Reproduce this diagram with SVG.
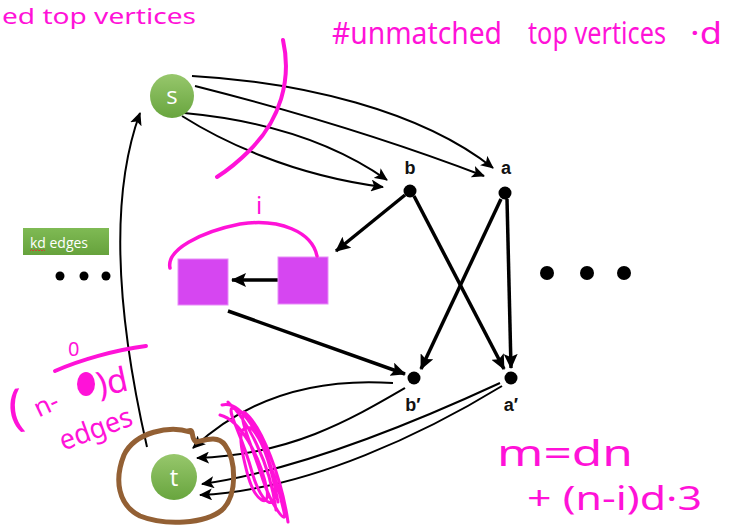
<svg xmlns="http://www.w3.org/2000/svg" width="732" height="527" viewBox="0 0 732 527">
<defs>
<linearGradient id="gn" x1="0" y1="0" x2="0" y2="1">
<stop offset="0" stop-color="#97c76c"/>
<stop offset="1" stop-color="#68a53e"/>
</linearGradient>
<linearGradient id="gb" x1="0" y1="0" x2="0" y2="1">
<stop offset="0" stop-color="#7fba54"/>
<stop offset="1" stop-color="#66a23c"/>
</linearGradient>
<marker id="ah" markerUnits="userSpaceOnUse" markerWidth="14" markerHeight="12" refX="12" refY="6" orient="auto">
<path d="M0,0 L13,6 L0,12 L3,6 Z" fill="#000"/>
</marker>
<marker id="ahb" markerUnits="userSpaceOnUse" markerWidth="16" markerHeight="14" refX="14" refY="7" orient="auto">
<path d="M0,0 L15,7 L0,14 L3,7 Z" fill="#000"/>
</marker>
</defs>
<style>
.thin{fill:none;stroke:#000;stroke-width:2}
.bold{fill:none;stroke:#000;stroke-width:3.5}
.lbl{font-family:"Liberation Sans",Arial,sans-serif;font-weight:bold;fill:#111;text-anchor:middle}
.nd{font-family:"Open Sans","Liberation Sans",sans-serif;font-size:24px;fill:#fff;text-anchor:middle}
.hw{font-family:"Noto Sans","Liberation Sans",sans-serif;fill:#ff12d8}
.pk{fill:none;stroke:#ff12d8;stroke-linecap:round;stroke-linejoin:round}
.sq{fill:#d646f1;stroke:#e88cf8;stroke-width:1}
</style>
<rect width="732" height="527" fill="#fff"/>

<g id="connectors">
<path class="thin" d="M192,76 C300,82 420,110 493,168" marker-end="url(#ah)"/>
<path class="thin" d="M195,86 C290,110 390,140 484,176" marker-end="url(#ah)"/>
<path class="thin" d="M184,113 C260,120 330,140 387,180" marker-end="url(#ah)"/>
<path class="thin" d="M182,116 C220,140 290,175 383,187" marker-end="url(#ah)"/>
<path class="bold" d="M405,195 L336,251" marker-end="url(#ahb)"/>
<path class="bold" d="M414,196 L504,369" marker-end="url(#ahb)"/>
<path class="bold" d="M501,199 L421,369" marker-end="url(#ahb)"/>
<path class="bold" d="M507,199 L511,368" marker-end="url(#ahb)"/>
<path class="bold" d="M278,280 L232,280" marker-end="url(#ahb)"/>
<path class="bold" d="M228,311 L405,374" marker-end="url(#ahb)"/>
<path class="thin" d="M393,383 C320,378 250,395 193,448" marker-end="url(#ah)"/>
<path class="thin" d="M405,388 C350,420 290,455 197,458" marker-end="url(#ah)"/>
<path class="thin" d="M500,383 C420,420 300,470 202,484" marker-end="url(#ah)"/>
<path class="thin" d="M502,386 C430,430 310,490 200,495" marker-end="url(#ah)"/>
<path class="thin" d="M147,447 C118,320 108,200 140,113" marker-end="url(#ah)"/>
</g>

<g id="node-s">
<circle cx="172" cy="96" r="22" fill="url(#gn)"/>
<text class="nd" x="172" y="104">s</text>
</g>
<g id="node-t">
<circle cx="174" cy="477" r="23" fill="url(#gn)"/>
<text class="nd" x="174" y="486">t</text>
</g>
<g id="node-b">
<circle cx="410" cy="191" r="6.5" fill="#000"/>
<text class="lbl" x="410" y="174" font-size="18">b</text>
</g>
<g id="node-a">
<circle cx="505" cy="193" r="6.5" fill="#000"/>
<text class="lbl" x="506" y="174" font-size="18">a</text>
</g>
<g id="node-b2">
<circle cx="414" cy="378" r="6.5" fill="#000"/>
<text class="lbl" x="413" y="411" font-size="18">b′</text>
</g>
<g id="node-a2">
<circle cx="511" cy="378" r="6.5" fill="#000"/>
<text class="lbl" x="511" y="411" font-size="18">a′</text>
</g>
<g id="square-left"><rect class="sq" x="178" y="259" width="50" height="46"/></g>
<g id="square-right"><rect class="sq" x="278" y="257" width="50" height="47"/></g>

<g id="kd-edges">
<rect x="23" y="228" width="86" height="27" fill="url(#gb)"/>
<text x="30" y="248" font-family="'Open Sans','Liberation Sans',sans-serif" font-size="15" fill="#fff" textLength="58" lengthAdjust="spacingAndGlyphs">kd edges</text>
<path d="M30,251 l1.5,-1.5 l1.5,1.5 l1.5,-1.5 l1.5,1.5 l1.5,-1.5 l1.5,1.5 l1.5,-1.5 l1.5,1.5 l1.5,-1.5 l1.5,1.5" fill="none" stroke="#e03030" stroke-width="0.8"/>
</g>

<g id="dots-left" fill="#000">
<circle cx="60" cy="276" r="4.5"/><circle cx="84" cy="276" r="4.5"/><circle cx="106" cy="276" r="4.5"/>
</g>
<g id="dots-right" fill="#000">
<circle cx="547" cy="273" r="7"/><circle cx="587" cy="273" r="7"/><circle cx="624" cy="273" r="7"/>
</g>

<g id="annotations">
<text class="hw" x="2" y="24" font-size="22" textLength="194" lengthAdjust="spacingAndGlyphs">ed top vertices</text>
<text class="hw" x="332" y="44" font-size="30" textLength="170" lengthAdjust="spacingAndGlyphs">#unmatched</text>
<text class="hw" x="528" y="44" font-size="30" textLength="138" lengthAdjust="spacingAndGlyphs">top vertices</text>
<text class="hw" x="690" y="44" font-size="30" textLength="32" lengthAdjust="spacingAndGlyphs">·d</text>
<path class="pk" stroke-width="4" d="M283,40 C292,80 280,120 250,150 C238,162 228,170 217,177"/>
<text class="hw" x="256" y="214" font-size="24">i</text>
<path class="pk" stroke-width="3.5" d="M170,268 C166,250 200,232 240,224 C280,218 312,232 317,256"/>
<text class="hw" x="68" y="356" font-size="20">0</text>
<path class="pk" stroke-width="4" d="M55,371 C80,360 115,350 146,346"/>
<text class="hw" x="8" y="424" font-size="50" transform="rotate(-8 20 405)">(</text>
<text class="hw" x="34" y="414" font-size="26" transform="rotate(-25 45 405)">n-</text>
<ellipse cx="86" cy="384" rx="9" ry="12" fill="#ff12d8"/>
<text class="hw" x="96" y="394" font-size="34" transform="rotate(-12 110 380)">)d</text>
<text class="hw" x="56" y="440" font-size="28" textLength="76" lengthAdjust="spacingAndGlyphs" transform="rotate(-20 90 425)">edges</text>
<path class="pk" stroke-width="3" d="M222,405 C242,400 266,440 274,480 C280,514 262,508 252,472 C241,432 227,412 232,408 C252,410 275,470 284,512 C288,527 272,507 263,480 C252,445 238,418 244,412 C262,425 282,480 288,522 M220,415 C240,420 260,455 267,490 C270,508 256,503 248,476 C240,446 236,424 251,428 C264,440 272,470 278,502 M228,402 C246,418 270,462 276,510"/>
<path fill="none" stroke="#936034" stroke-width="5" stroke-linecap="round" d="M190,432 C170,425 135,432 124,455 C114,480 118,505 140,516 C165,526 205,524 222,510 C238,495 236,460 225,445 C218,435 205,440 196,442 C190,438 195,428 188,431"/>
<text class="hw" x="497" y="466" font-size="36" textLength="136" lengthAdjust="spacingAndGlyphs">m=dn</text>
<text class="hw" x="527" y="510" font-size="32" textLength="175" lengthAdjust="spacingAndGlyphs">+ (n-i)d·3</text>
</g>
</svg>
